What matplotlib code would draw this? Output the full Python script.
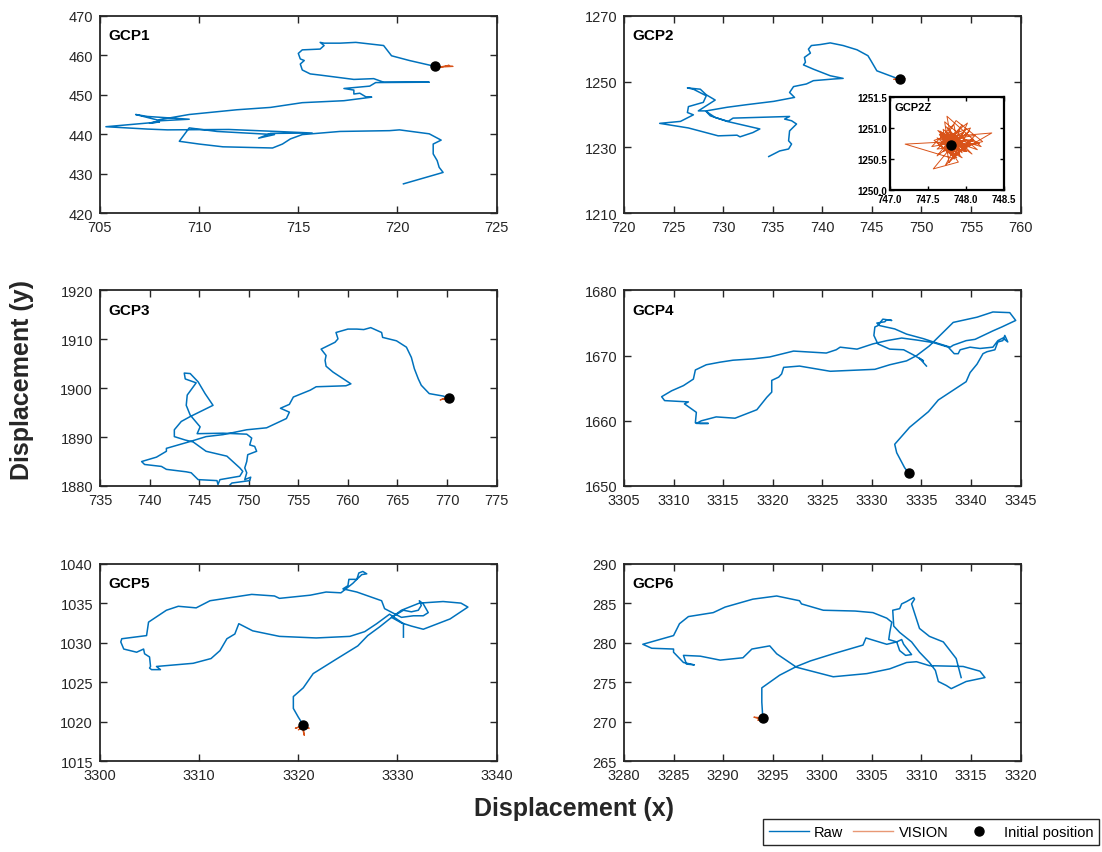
import matplotlib
matplotlib.use('Agg')
import matplotlib.pyplot as plt
from matplotlib.lines import Line2D
from matplotlib.ticker import FormatStrFormatter

plt.rcParams['font.family'] = ['Liberation Sans', 'DejaVu Sans']

RAW_COLOR = '#0072BD'
VIS_COLOR = '#D95319'
INK = '#262626'

# ---- GCP1 ----
gcp1_raw_x = [721.9, 720.6, 719.7, 719.3, 717.9, 717.1, 716.3, 716.1, 716.3, 716.1,
              715.2, 715.0, 715.1, 715.3, 715.1, 715.2, 715.6, 716.1, 717.8, 718.8,
              719.3, 721.6, 718.9, 718.6, 717.3, 717.8, 717.8, 718.1, 718.4, 718.7,
              717.3, 715.2, 713.6, 711.9, 709.5, 707.9, 706.8, 707.4, 709.5, 708.0,
              707.5, 708.0, 705.3, 707.4, 708.4, 711.5, 713.9, 715.7, 713.6, 713.0,
              713.8, 710.9, 709.5, 709.0, 710.0, 711.2, 713.7, 714.2, 714.6, 715.2,
              717.1, 719.6, 720.1, 721.6, 722.2, 721.8, 721.8, 722.0, 722.1, 722.3,
              720.3]
gcp1_raw_y = [457.2, 458.7, 459.9, 462.5, 463.3, 463.1, 463.1, 463.3, 462.5, 461.6,
              461.4, 460.5, 459.1, 458.7, 457.8, 456.3, 455.3, 455.0, 453.9, 454.1,
              453.2, 453.2, 453.1, 452.2, 451.6, 451.2, 450.2, 450.4, 449.5, 449.4,
              448.5, 448.0, 446.8, 446.2, 445.0, 443.6, 445.0, 444.5, 443.8, 443.4,
              442.8, 443.1, 441.9, 441.3, 441.1, 441.2, 440.7, 440.3, 440.2, 439.0,
              439.9, 440.7, 441.6, 438.2, 437.5, 436.8, 436.5, 437.5, 438.8, 439.9,
              440.7, 440.9, 441.1, 440.1, 438.5, 437.5, 435.0, 433.3, 431.6, 430.3,
              427.4]
gcp1_vis_x = [721.9, 722.3, 722.5, 722.8, 722.4, 722.6, 722.1, 721.9]
gcp1_vis_y = [457.2, 457.0, 457.4, 457.2, 457.1, 457.5, 457.0, 457.3]
gcp1_init = (721.9, 457.2)

# ---- GCP2 ----
gcp2_raw_x = [747.8, 745.5, 744.9, 744.6, 743.5, 742.1, 740.8, 739.8, 738.9, 738.6,
              738.8, 738.2, 738.3, 738.1, 739.1, 740.8, 742.1, 741.1, 739.1, 738.4,
              737.1, 736.7, 737.2, 735.1, 732.4, 730.4, 728.3, 727.5, 729.2, 728.3,
              727.7, 726.4, 727.0, 728.3, 728.0, 726.5, 726.4, 727.0, 725.7, 723.6,
              726.5, 729.5, 731.4, 731.7, 733.0, 733.7, 730.4, 728.7, 728.3, 729.2,
              730.5, 731.0, 736.7, 736.2, 736.9, 737.4, 736.7, 736.6, 736.9, 736.6,
              735.7, 734.6]
gcp2_raw_y = [1250.7, 1253.3, 1256.4, 1257.9, 1259.7, 1261.0, 1261.8, 1261.3, 1261.0, 1259.9,
              1258.7, 1257.4, 1255.9, 1255.1, 1253.8, 1251.8, 1251.0, 1250.8, 1250.3, 1249.3,
              1248.5, 1246.7, 1245.2, 1244.0, 1243.0, 1242.2, 1241.1, 1241.1, 1244.4, 1246.0,
              1247.7, 1248.1, 1247.7, 1245.7, 1243.7, 1242.4, 1240.6, 1239.9, 1237.9, 1237.3,
              1235.9, 1233.5, 1233.7, 1233.2, 1234.5, 1235.6, 1237.9, 1239.6, 1240.9, 1239.1,
              1237.9, 1238.9, 1239.4, 1238.6, 1238.1, 1237.1, 1235.0, 1232.0, 1231.0, 1229.5,
              1228.9, 1227.2]
gcp2_vis_x = [747.80, 748.05, 747.62, 747.95, 747.70, 748.10, 747.20, 747.85, 747.75, 748.20,
              747.65, 747.90, 747.57, 748.00, 747.78, 747.72, 748.15, 747.68, 748.34, 747.82,
              747.60, 747.98, 747.74, 748.08, 747.66, 747.90, 747.80, 748.12, 747.70, 747.95,
              747.64, 748.02, 747.86, 747.75, 748.18, 747.62, 747.92, 747.80, 747.69, 748.05,
              747.84, 747.76, 748.00, 747.72, 747.88, 747.74, 747.95, 747.66, 747.88, 747.58,
              748.06, 747.78, 747.70, 748.00, 747.62, 747.92, 747.84, 747.55, 748.10, 747.73,
              747.96, 747.68, 747.87, 748.22, 747.71, 747.79, 748.03, 747.63, 747.91, 747.77,
              747.85, 747.67, 748.01, 747.81, 747.80]
gcp2_vis_y = [1250.73, 1250.95, 1250.55, 1251.05, 1250.62, 1250.80, 1250.74, 1250.50, 1251.19, 1250.70,
              1250.90, 1250.45, 1250.34, 1250.98, 1250.60, 1251.10, 1250.65, 1250.85, 1250.92, 1250.55,
              1250.78, 1250.62, 1251.02, 1250.58, 1250.95, 1250.68, 1250.48, 1250.88, 1250.80, 1250.52,
              1250.72, 1251.08, 1250.64, 1250.90, 1250.75, 1250.66, 1250.98, 1250.58, 1250.86, 1250.70,
              1250.80, 1251.00, 1250.62, 1250.76, 1250.68, 1250.95, 1250.60, 1250.88, 1250.52, 1250.80,
              1251.00, 1250.44, 1250.98, 1250.66, 1250.84, 1250.56, 1251.06, 1250.70, 1250.82, 1250.40,
              1250.93, 1250.74, 1251.12, 1250.78, 1250.64, 1250.90, 1250.70, 1250.96, 1250.60, 1250.86,
              1250.54, 1250.92, 1250.62, 1250.82, 1250.73]
gcp2_init = (747.8, 1250.73)

# ---- GCP3 ----
gcp3_raw_x = [770.2, 769.6, 768.2, 767.4, 767.1, 766.7, 766.4, 765.9, 764.9, 763.5,
              763.4, 762.3, 761.6, 760.9, 760.0, 758.8, 759.0, 758.7, 757.3, 757.8,
              757.7, 757.8, 758.5, 760.3, 759.8, 756.8, 756.2, 754.5, 754.1, 753.2,
              754.1, 753.8, 751.8, 749.8, 747.4, 745.7, 744.1, 741.7, 741.7, 740.7,
              739.2, 739.5, 741.2, 741.7, 743.7, 744.2, 744.9, 746.8, 746.9, 747.1,
              749.1, 749.4, 749.1, 747.8, 745.7, 744.4, 743.6, 742.5, 742.5, 743.2,
              744.1, 745.1, 746.4, 745.6, 744.9, 744.1, 743.5, 743.6, 744.7, 743.8,
              743.7, 744.1, 745.1, 744.8, 747.4, 749.8, 750.3, 750.1, 750.6, 750.8,
              749.9, 749.8, 749.6, 749.8, 749.6, 750.2, 750.1, 748.3, 748.1]
gcp3_raw_y = [1898.0, 1898.4, 1898.9, 1900.6, 1901.9, 1904.0, 1906.3, 1908.4, 1909.7, 1910.4,
              1911.4, 1912.4, 1912.0, 1912.1, 1912.1, 1911.4, 1910.1, 1909.4, 1908.0, 1906.7,
              1905.7, 1904.5, 1903.3, 1900.9, 1900.5, 1900.3, 1899.6, 1898.2, 1896.7, 1895.9,
              1895.1, 1893.8, 1891.9, 1891.5, 1890.5, 1890.1, 1889.1, 1887.7, 1887.1, 1885.9,
              1885.0, 1884.4, 1884.0, 1883.4, 1882.9, 1882.7, 1881.3, 1881.1, 1880.3, 1881.3,
              1882.0, 1883.0, 1883.7, 1886.1, 1887.1, 1889.0, 1889.4, 1890.1, 1891.5, 1893.2,
              1894.2, 1895.2, 1896.5, 1898.9, 1901.3, 1903.0, 1903.1, 1901.9, 1901.1, 1898.6,
              1896.5, 1894.5, 1892.1, 1890.7, 1890.8, 1890.6, 1889.8, 1888.4, 1888.1, 1887.1,
              1886.4, 1885.0, 1883.7, 1882.7, 1881.3, 1881.8, 1881.1, 1880.6, 1880.2]
gcp3_vis_x = [770.2, 769.6, 769.9, 769.3, 769.8, 770.1]
gcp3_vis_y = [1898.0, 1897.7, 1898.1, 1897.6, 1897.9, 1898.0]
gcp3_init = (770.2, 1898.0)

# ---- GCP4 ----
gcp4_raw_x = [3333.7, 3333.3, 3332.5, 3332.3, 3333.8, 3335.7, 3336.7, 3338.4, 3339.5, 3339.9,
              3340.6, 3341.2, 3341.6, 3342.4, 3342.7, 3343.2, 3343.4, 3343.7, 3343.2, 3342.7,
              3342.2, 3340.9, 3339.9, 3338.9, 3338.7, 3338.3, 3337.7, 3336.2, 3334.5, 3333.0,
              3331.5, 3330.1, 3328.5, 3326.8, 3326.4, 3325.4, 3322.1, 3319.7, 3318.0, 3316.0,
              3314.7, 3313.3, 3312.2, 3312.0, 3311.0, 3309.8, 3308.8, 3309.1, 3311.5, 3311.1,
              3312.3, 3312.2, 3312.7, 3313.5, 3312.3, 3312.8, 3314.3, 3316.2, 3318.4, 3319.4,
              3319.9, 3319.9, 3320.6, 3320.9, 3321.1, 3322.7, 3325.8, 3330.3, 3331.8, 3333.5,
              3334.5, 3335.8, 3338.2, 3340.6, 3342.2, 3343.9, 3344.5, 3343.1, 3342.2, 3340.4,
              3339.5, 3338.2, 3337.9, 3336.2, 3335.2, 3333.5, 3332.3, 3330.8, 3330.5, 3331.3,
              3331.5, 3332.0, 3331.1, 3330.6, 3330.3, 3330.2, 3330.6, 3331.8, 3333.2, 3334.2,
              3335.2, 3334.8, 3335.5]
gcp4_raw_y = [1652.0, 1652.8, 1655.1, 1656.4, 1659.0, 1661.4, 1663.2, 1664.9, 1666.0, 1667.4,
              1668.7, 1670.3, 1670.6, 1670.9, 1672.1, 1672.3, 1673.1, 1672.1, 1672.7, 1672.3,
              1671.3, 1671.1, 1671.3, 1670.9, 1670.3, 1670.3, 1671.3, 1672.0, 1672.4, 1672.7,
              1672.3, 1671.8, 1671.0, 1671.3, 1670.9, 1670.4, 1670.7, 1669.8, 1669.5, 1669.3,
              1669.0, 1668.6, 1667.8, 1666.4, 1665.4, 1664.6, 1663.7, 1663.1, 1662.9, 1662.6,
              1661.3, 1659.7, 1659.6, 1659.6, 1659.6, 1660.0, 1660.6, 1660.4, 1661.7, 1663.6,
              1664.4, 1666.2, 1666.7, 1667.2, 1668.2, 1668.4, 1667.6, 1667.9, 1668.6, 1669.2,
              1670.0, 1671.5, 1675.1, 1675.9, 1676.7, 1676.6, 1675.4, 1674.4, 1673.8, 1672.5,
              1672.3, 1671.6, 1671.3, 1672.1, 1672.6, 1673.3, 1674.1, 1674.6, 1675.0, 1675.2,
              1675.5, 1675.4, 1675.6, 1674.6, 1674.4, 1673.1, 1671.8, 1671.0, 1670.9, 1670.1,
              1669.2, 1669.6, 1668.4]
gcp4_vis_x = [3333.7, 3333.5, 3333.8, 3333.6]
gcp4_vis_y = [1652.0, 1652.2, 1651.9, 1652.1]
gcp4_init = (3333.7, 1652.0)

# ---- GCP5 ----
gcp5_raw_x = [3320.5, 3320.0, 3319.5, 3319.5, 3320.5, 3321.5, 3323.8, 3326.0, 3327.0, 3328.2,
              3329.4, 3330.4, 3332.2, 3334.6, 3336.4, 3337.1, 3335.3, 3332.6, 3331.4, 3330.4,
              3329.4, 3330.6, 3331.4, 3332.1, 3332.4, 3332.2, 3332.6, 3333.1, 3332.6, 3331.6,
              3330.4, 3328.7, 3328.4, 3325.9, 3324.5, 3325.0, 3325.1, 3325.9, 3326.1, 3326.5,
              3326.9, 3326.4, 3325.9, 3325.5, 3324.3, 3322.8, 3321.2, 3318.1, 3317.6, 3315.3,
              3311.1, 3309.7, 3307.9, 3306.7, 3304.9, 3304.7, 3302.2, 3302.1, 3302.4, 3303.7,
              3304.4, 3304.5, 3305.0, 3305.1, 3305.0, 3305.2, 3306.1, 3305.7, 3309.4, 3311.2,
              3312.1, 3312.8, 3313.6, 3314.0, 3315.4, 3318.1, 3321.8, 3325.2, 3326.7, 3327.9,
              3329.2, 3330.6, 3330.6]
gcp5_raw_y = [1019.6, 1020.6, 1021.7, 1023.2, 1024.3, 1026.1, 1027.9, 1029.6, 1030.9, 1032.0,
              1033.2, 1034.1, 1035.0, 1035.2, 1035.0, 1034.5, 1033.0, 1031.7, 1032.1, 1032.5,
              1033.2, 1034.1, 1033.9, 1034.1, 1034.7, 1035.3, 1034.9, 1033.8, 1033.4, 1033.4,
              1033.2, 1034.3, 1035.3, 1036.4, 1036.8, 1037.2, 1038.0, 1038.0, 1038.8, 1039.0,
              1038.7, 1038.6, 1038.0, 1037.5, 1036.3, 1036.4, 1036.0, 1035.6, 1035.9, 1036.1,
              1035.3, 1034.4, 1034.6, 1034.1, 1032.6, 1030.9, 1030.5, 1030.1, 1029.2, 1028.8,
              1029.2, 1028.6, 1028.2, 1027.0, 1026.8, 1026.6, 1026.6, 1027.0, 1027.4, 1028.0,
              1029.0, 1030.5, 1031.1, 1032.4, 1031.5, 1030.8, 1030.6, 1030.8, 1031.4, 1032.4,
              1033.6, 1032.4, 1030.7]
gcp5_vis_x = [3320.5, 3319.7, 3320.3, 3321.1, 3320.5, 3320.6, 3320.4, 3320.0, 3320.8]
gcp5_vis_y = [1019.6, 1019.2, 1019.4, 1019.2, 1019.5, 1018.3, 1019.3, 1019.0, 1019.5]
gcp5_init = (3320.5, 1019.6)

# ---- GCP6 ----
gcp6_raw_x = [3294.0, 3293.9, 3293.9, 3295.7, 3297.4, 3298.8, 3301.1, 3304.1, 3304.4, 3306.5,
              3307.5, 3308.0, 3308.2, 3309.0, 3308.4, 3307.8, 3307.5, 3306.7, 3306.8, 3307.0,
              3306.5, 3305.1, 3303.3, 3300.1, 3297.9, 3297.7, 3295.4, 3293.0, 3290.2, 3289.0,
              3286.5, 3285.6, 3285.0, 3281.9, 3282.8, 3285.0, 3285.0, 3286.0, 3287.1, 3286.3,
              3286.0, 3287.7, 3289.7, 3292.0, 3292.9, 3294.7, 3295.4, 3297.4, 3301.1, 3304.5,
              3306.8, 3308.5, 3309.5, 3310.8, 3314.2, 3315.9, 3316.4, 3314.5, 3313.0, 3312.5,
              3311.7, 3311.4, 3310.8, 3309.8, 3309.0, 3307.8, 3307.2, 3307.1, 3307.8, 3308.0,
              3308.5, 3309.2, 3309.3, 3309.0, 3309.8, 3310.8, 3312.2, 3313.5, 3314.0]
gcp6_raw_y = [270.5, 272.5, 274.3, 275.9, 277.0, 277.7, 278.6, 279.7, 280.6, 279.8,
              280.1, 280.4, 279.8, 278.5, 278.4, 279.0, 280.1, 280.4, 281.3, 282.6,
              283.1, 283.8, 284.0, 284.1, 284.9, 285.3, 285.9, 285.5, 284.5, 283.8,
              283.3, 282.4, 280.9, 279.8, 279.3, 279.2, 278.8, 277.5, 277.2, 277.3,
              278.4, 278.3, 277.8, 278.1, 279.2, 279.6, 278.6, 276.9, 275.7, 276.1,
              276.7, 277.5, 277.6, 277.1, 277.0, 276.4, 275.6, 275.1, 274.2, 274.6,
              275.1, 276.5, 277.5, 278.8, 280.1, 281.3, 282.1, 284.1, 284.3, 284.9,
              285.2, 285.7, 285.5, 284.9, 281.8, 280.8, 280.1, 278.0, 275.6]
gcp6_vis_x = [3294.0, 3293.1, 3293.6, 3294.5, 3293.8, 3293.5, 3293.9, 3294.3]
gcp6_vis_y = [270.5, 270.6, 270.4, 270.5, 270.6, 270.2, 270.5, 270.4]
gcp6_init = (3294.0, 270.5)

panel_names = ['GCP1', 'GCP2', 'GCP3', 'GCP4', 'GCP5', 'GCP6']
x_ticks = [range(705, 726, 5), range(720, 761, 5), range(735, 776, 5),
           range(3305, 3346, 5), range(3300, 3341, 10), range(3280, 3321, 5)]
y_ticks = [range(420, 471, 10), range(1210, 1271, 20), range(1880, 1921, 10),
           range(1650, 1681, 10), range(1015, 1041, 5), range(265, 291, 5)]

panels = [
    (gcp1_raw_x, gcp1_raw_y, gcp1_vis_x, gcp1_vis_y, gcp1_init),
    (gcp2_raw_x, gcp2_raw_y, gcp2_vis_x, gcp2_vis_y, gcp2_init),
    (gcp3_raw_x, gcp3_raw_y, gcp3_vis_x, gcp3_vis_y, gcp3_init),
    (gcp4_raw_x, gcp4_raw_y, gcp4_vis_x, gcp4_vis_y, gcp4_init),
    (gcp5_raw_x, gcp5_raw_y, gcp5_vis_x, gcp5_vis_y, gcp5_init),
    (gcp6_raw_x, gcp6_raw_y, gcp6_vis_x, gcp6_vis_y, gcp6_init),
]

fig = plt.figure(figsize=(11.02, 8.53), dpi=100)

col_left = [0.0907, 0.5662]
col_w = 0.360
row_bottom = [0.7491, 0.4291, 0.1061]
row_h = [0.2310, 0.2292, 0.2321]

for i, (rx, ry, vx, vy, init) in enumerate(panels):
    r, c = divmod(i, 2)
    ax = fig.add_axes([col_left[c], row_bottom[r], col_w, row_h[r]])
    ax.plot(rx, ry, color=RAW_COLOR, lw=1.1)
    ax.plot(vx, vy, color=VIS_COLOR, lw=0.9)
    ax.plot(init[0], init[1], 'o', color='black', ms=6.5)
    xt, yt = list(x_ticks[i]), list(y_ticks[i])
    ax.set_xticks(xt)
    ax.set_yticks(yt)
    ax.set_xlim(xt[0], xt[-1])
    ax.set_ylim(yt[0], yt[-1])
    ax.tick_params(direction='in', top=True, right=True, length=5, width=1.0,
                   labelsize=10.5, colors=INK, pad=5)
    for sp in ax.spines.values():
        sp.set_linewidth(1.3)
        sp.set_color(INK)
    ax.text(0.021, 0.902, panel_names[i], transform=ax.transAxes, ha='left', va='center',
            fontsize=11, fontweight='bold')

# zoomed inset for GCP2
axz = fig.add_axes([0.8076, 0.7761, 0.1034, 0.109])
axz.plot(gcp2_vis_x, gcp2_vis_y, color=VIS_COLOR, lw=0.7)
axz.plot(gcp2_init[0], gcp2_init[1], 'o', color='black', ms=6.5)
axz.set_xlim(747.0, 748.5)
axz.set_ylim(1250.0, 1251.5)
axz.set_xticks([747.0, 747.5, 748.0, 748.5])
axz.set_yticks([1250.0, 1250.5, 1251.0, 1251.5])
axz.xaxis.set_major_formatter(FormatStrFormatter('%.1f'))
axz.yaxis.set_major_formatter(FormatStrFormatter('%.1f'))
axz.tick_params(direction='in', top=True, right=True, length=3, width=1.0,
                labelsize=7, colors='black')
axz.tick_params(axis='x', pad=3)
axz.tick_params(axis='y', pad=2)
for sp in axz.spines.values():
    sp.set_linewidth(1.6)
    sp.set_color('black')
for lab in axz.get_xticklabels() + axz.get_yticklabels():
    lab.set_fontweight('bold')
axz.text(0.044, 0.89, 'GCP2Z', transform=axz.transAxes, ha='left', va='center',
         fontsize=8, fontweight='bold')

fig.text(0.020, 0.554, 'Displacement (y)', rotation=90, ha='center', va='center',
         fontsize=18, fontweight='bold', color=INK)
fig.text(0.521, 0.051, 'Displacement (x)', ha='center', va='center',
         fontsize=18, fontweight='bold', color=INK)

handles = [Line2D([], [], color=RAW_COLOR, lw=1.0),
           Line2D([], [], color=VIS_COLOR, lw=1.0, alpha=0.6),
           Line2D([], [], marker='o', color='black', ls='none', ms=6.5)]
fig.legend(handles, ['Raw', 'VISION', 'Initial position'], loc='lower right',
           bbox_to_anchor=(0.9973, 0.0082), borderaxespad=0, ncol=3, frameon=True,
           fancybox=False, edgecolor=INK, framealpha=1, fontsize=10.5,
           handlelength=2.75, columnspacing=0.7, borderpad=0.4, handletextpad=0.35)

fig.savefig('out.png', dpi=100)
